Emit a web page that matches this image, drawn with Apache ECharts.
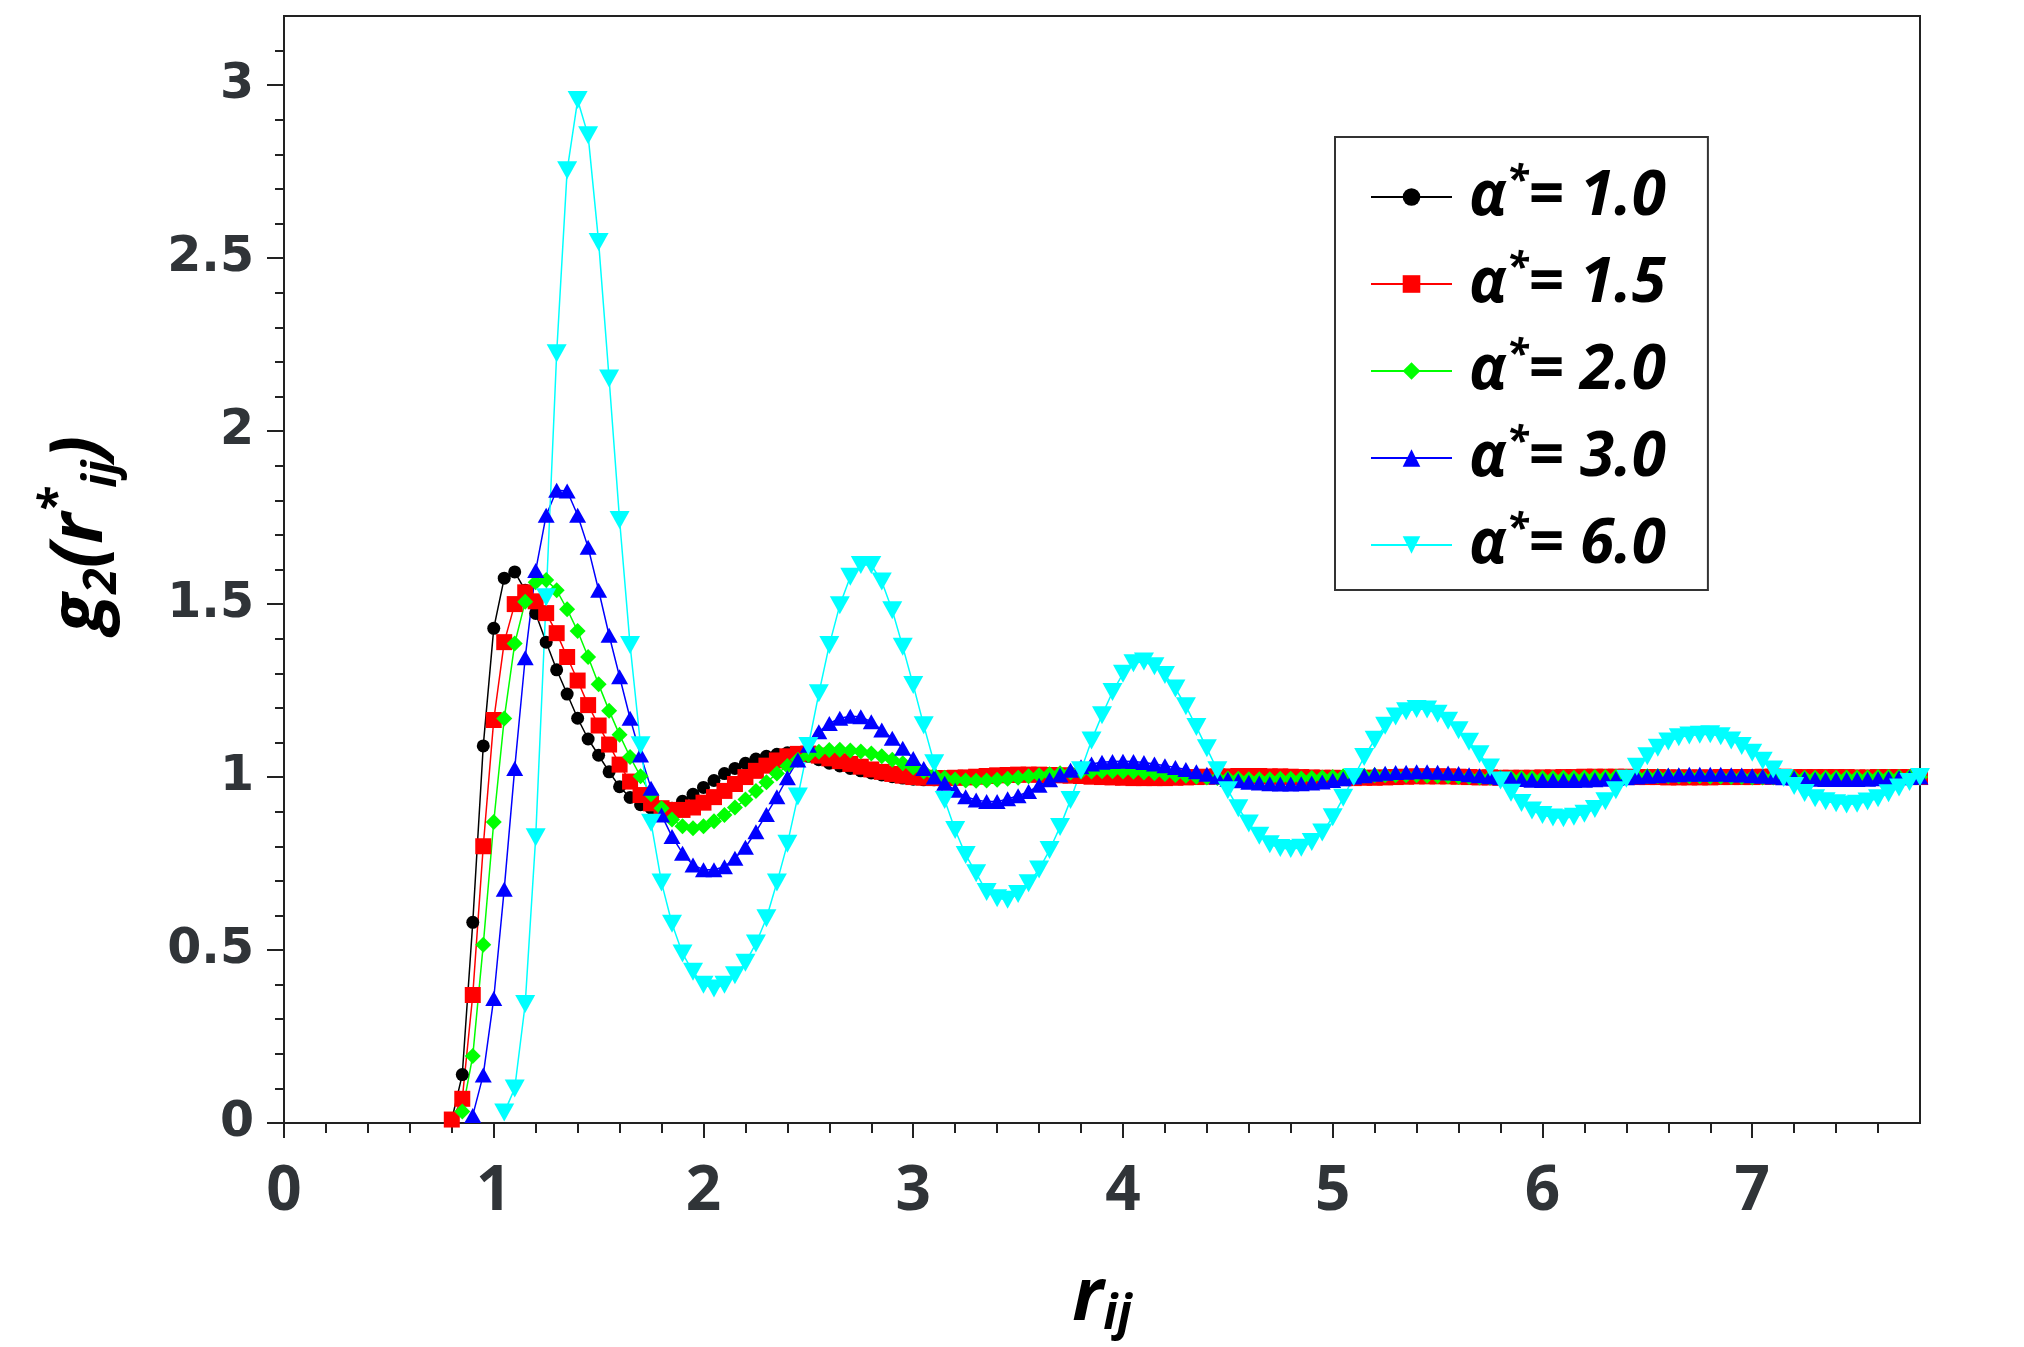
<!DOCTYPE html>
<html>
<head>
<meta charset="utf-8">
<script src="https://cdn.jsdelivr.net/npm/echarts@6/dist/echarts.min.js"></script>
<style>
  html, body { margin: 0; padding: 0; background: #fff; }
  #chart { width: 2024px; height: 1347px; }
</style>
</head>
<body>
<div id="chart"></div>
<script>
// r grid shared by all curves
const r = [
  0.75, 0.8, 0.85, 0.9, 0.95, 1, 1.05, 1.1, 1.15, 1.2,
  1.25, 1.3, 1.35, 1.4, 1.45, 1.5, 1.55, 1.6, 1.65, 1.7,
  1.75, 1.8, 1.85, 1.9, 1.95, 2, 2.05, 2.1, 2.15, 2.2,
  2.25, 2.3, 2.35, 2.4, 2.45, 2.5, 2.55, 2.6, 2.65, 2.7,
  2.75, 2.8, 2.85, 2.9, 2.95, 3, 3.05, 3.1, 3.15, 3.2,
  3.25, 3.3, 3.35, 3.4, 3.45, 3.5, 3.55, 3.6, 3.65, 3.7,
  3.75, 3.8, 3.85, 3.9, 3.95, 4, 4.05, 4.1, 4.15, 4.2,
  4.25, 4.3, 4.35, 4.4, 4.45, 4.5, 4.55, 4.6, 4.65, 4.7,
  4.75, 4.8, 4.85, 4.9, 4.95, 5, 5.05, 5.1, 5.15, 5.2,
  5.25, 5.3, 5.35, 5.4, 5.45, 5.5, 5.55, 5.6, 5.65, 5.7,
  5.75, 5.8, 5.85, 5.9, 5.95, 6, 6.05, 6.1, 6.15, 6.2,
  6.25, 6.3, 6.35, 6.4, 6.45, 6.5, 6.55, 6.6, 6.65, 6.7,
  6.75, 6.8, 6.85, 6.9, 6.95, 7, 7.05, 7.1, 7.15, 7.2,
  7.25, 7.3, 7.35, 7.4, 7.45, 7.5, 7.55, 7.6, 7.65, 7.7,
  7.75, 7.8
];

// g2 values, alpha* = 1.0
const gAlpha10 = [
  null, 0.01, 0.14, 0.58, 1.09, 1.43, 1.575, 1.593, 1.54, 1.473,
  1.39, 1.31, 1.24, 1.17, 1.11, 1.063, 1.015, 0.972, 0.941, 0.92,
  0.91, 0.905, 0.91, 0.93, 0.95, 0.97, 0.99, 1.01, 1.025, 1.04,
  1.052, 1.06, 1.066, 1.07, 1.068, 1.06, 1.05, 1.04, 1.032, 1.025,
  1.018, 1.012, 1.006, 1.001, 0.997, 0.994, 0.992, 0.992, 0.993, 0.994,
  0.996, 0.998, 1.0, 1.002, 1.004, 1.005, 1.006, 1.006, 1.005, 1.004,
  1.003, 1.002, 1.001, 1.0, 0.999, 0.999, 0.998, 0.998, 0.999, 0.999,
  1.0, 1.0, 1.0, 1.001, 1.001, 1.001, 1.001, 1.0, 1.0, 1.0,
  1.0, 1.0, 1.0, 1.0, 1.0, 1.0, 1.0, 1.0, 1.0, 1.0,
  1.0, 1.0, 1.0, 1.0, 1.0, 1.0, 1.0, 1.0, 1.0, 1.0,
  1.0, 1.0, 1.0, 1.0, 1.0, 1.0, 1.0, 1.0, 1.0, 1.0,
  1.0, 1.0, 1.0, 1.0, 1.0, 1.0, 1.0, 1.0, 1.0, 1.0,
  1.0, 1.0, 1.0, 1.0, 1.0, 1.0, 1.0, 1.0, 1.0, 1.0,
  1.0, 1.0, 1.0, 1.0, 1.0, 1.0, 1.0, 1.0, 1.0, 1.0,
  1.0, 1.0
];

// alpha* = 1.5
const gAlpha15 = [
  null, 0.01, 0.07, 0.37, 0.8, 1.165, 1.39, 1.5, 1.534, 1.508,
  1.474, 1.416, 1.347, 1.279, 1.208, 1.149, 1.094, 1.036, 0.987, 0.948,
  0.924, 0.91, 0.905, 0.905, 0.912, 0.926, 0.942, 0.96, 0.98, 1.0,
  1.018, 1.033, 1.048, 1.06, 1.067, 1.068, 1.062, 1.054, 1.046, 1.038,
  1.03, 1.022, 1.015, 1.009, 1.004, 1.0, 0.998, 0.997, 0.997, 0.998,
  0.999, 1.001, 1.003, 1.005, 1.006, 1.007, 1.007, 1.007, 1.006, 1.005,
  1.004, 1.003, 1.001, 1.0, 0.999, 0.998, 0.997, 0.997, 0.997, 0.997,
  0.998, 0.999, 1.0, 1.001, 1.002, 1.002, 1.003, 1.003, 1.003, 1.002,
  1.002, 1.001, 1.0, 0.999, 0.998, 0.998, 0.997, 0.997, 0.998, 0.998,
  0.999, 1.0, 1.001, 1.002, 1.002, 1.002, 1.002, 1.001, 1.0, 0.999,
  0.999, 0.998, 0.998, 0.998, 0.998, 0.999, 0.999, 1.0, 1.0, 1.001,
  1.001, 1.001, 1.001, 1.001, 1.0, 1.0, 1.0, 0.999, 0.999, 0.999,
  0.999, 0.999, 1.0, 1.0, 1.0, 1.0, 1.001, 1.001, 1.001, 1.0,
  1.0, 1.0, 1.0, 1.0, 1.0, 0.999, 0.999, 1.0, 1.0, 1.0,
  1.0, 1.0
];

// alpha* = 2.0
const gAlpha20 = [
  null, null, 0.033, 0.194, 0.515, 0.87, 1.169, 1.386, 1.507, 1.563,
  1.57, 1.54, 1.485, 1.422, 1.347, 1.268, 1.192, 1.122, 1.058, 1.002,
  0.95, 0.91, 0.877, 0.858, 0.852, 0.858, 0.872, 0.89, 0.912, 0.935,
  0.96, 0.985, 1.01, 1.032, 1.05, 1.064, 1.073, 1.078, 1.079, 1.077,
  1.074, 1.068, 1.06, 1.05, 1.04, 1.028, 1.016, 1.005, 0.998, 0.993,
  0.99, 0.989, 0.99, 0.992, 0.995, 0.998, 1.002, 1.005, 1.008, 1.011,
  1.013, 1.015, 1.016, 1.017, 1.017, 1.016, 1.015, 1.013, 1.011, 1.009,
  1.006, 1.004, 1.001, 0.999, 0.997, 0.996, 0.995, 0.994, 0.994, 0.994,
  0.995, 0.995, 0.996, 0.997, 0.999, 1.0, 1.002, 1.003, 1.004, 1.005,
  1.005, 1.005, 1.005, 1.005, 1.004, 1.003, 1.002, 1.001, 1.0, 0.999,
  0.998, 0.998, 0.997, 0.997, 0.997, 0.997, 0.997, 0.998, 0.998, 0.999,
  1.0, 1.0, 1.001, 1.001, 1.002, 1.002, 1.002, 1.002, 1.002, 1.002,
  1.002, 1.001, 1.001, 1.0, 1.0, 0.999, 0.999, 0.999, 0.998, 0.998,
  0.998, 0.998, 0.998, 0.998, 0.999, 0.999, 0.999, 1.0, 1.0, 1.0,
  1.0, 1.0
];

// alpha* = 3.0
const gAlpha30 = [
  null, null, null, 0.022, 0.139, 0.36, 0.676, 1.025, 1.345, 1.597,
  1.757, 1.829, 1.827, 1.757, 1.664, 1.54, 1.41, 1.29, 1.17, 1.064,
  0.968, 0.89, 0.828, 0.78, 0.746, 0.732, 0.732, 0.741, 0.765, 0.797,
  0.842, 0.892, 0.943, 0.998, 1.049, 1.092, 1.131, 1.155, 1.17, 1.176,
  1.174, 1.16, 1.136, 1.112, 1.083, 1.054, 1.025, 1.0, 0.982, 0.962,
  0.943, 0.934, 0.929, 0.929, 0.937, 0.946, 0.958, 0.976, 0.992, 1.006,
  1.02, 1.03, 1.038, 1.043, 1.045, 1.046, 1.045, 1.042, 1.038, 1.033,
  1.028, 1.022, 1.015, 1.008, 1.0, 0.994, 0.989, 0.985, 0.983, 0.981,
  0.98, 0.98, 0.981, 0.983, 0.986, 0.99, 0.995, 1.0, 1.004, 1.008,
  1.011, 1.013, 1.014, 1.015, 1.015, 1.014, 1.012, 1.01, 1.007, 1.004,
  1.001, 0.998, 0.995, 0.993, 0.991, 0.99, 0.99, 0.99, 0.99, 0.991,
  0.992, 0.994, 0.996, 0.998, 1.0, 1.002, 1.004, 1.006, 1.007, 1.008,
  1.008, 1.008, 1.008, 1.007, 1.006, 1.004, 1.002, 1.0, 0.998, 0.997,
  0.995, 0.994, 0.993, 0.993, 0.993, 0.993, 0.994, 0.995, 0.996, 0.998,
  0.999, 1.0
];

// alpha* = 6.0
const gAlpha60 = [
  null, null, null, null, null, null, 0.03, 0.1, 0.344, 0.826,
  1.52, 2.225, 2.754, 2.957, 2.855, 2.547, 2.152, 1.743, 1.382, 1.092,
  0.868, 0.695, 0.576, 0.49, 0.437, 0.4, 0.389, 0.4, 0.427, 0.463,
  0.519, 0.592, 0.695, 0.807, 0.944, 1.09, 1.242, 1.382, 1.497, 1.579,
  1.613, 1.613, 1.565, 1.482, 1.377, 1.266, 1.15, 1.04, 0.934, 0.847,
  0.775, 0.722, 0.668, 0.65, 0.645, 0.662, 0.693, 0.733, 0.789, 0.856,
  0.934, 1.02, 1.106, 1.179, 1.246, 1.299, 1.329, 1.334, 1.32, 1.295,
  1.256, 1.205, 1.145, 1.083, 1.02, 0.962, 0.91, 0.866, 0.83, 0.806,
  0.795, 0.792, 0.796, 0.812, 0.84, 0.884, 0.94, 1.0, 1.058, 1.108,
  1.148, 1.175, 1.19, 1.197, 1.195, 1.183, 1.163, 1.135, 1.102, 1.066,
  1.028, 0.99, 0.955, 0.925, 0.903, 0.89, 0.883, 0.881, 0.885, 0.894,
  0.908, 0.93, 0.962, 0.995, 1.03, 1.06, 1.085, 1.103, 1.115, 1.12,
  1.122, 1.124, 1.118, 1.106, 1.09, 1.07, 1.047, 1.022, 0.997, 0.974,
  0.954, 0.939, 0.93, 0.924, 0.921, 0.923, 0.929, 0.939, 0.953, 0.97,
  0.986, 1.0
];

const alphaLabels = ['1.0', '1.5', '2.0', '3.0', '6.0'];
const xMajor = [0, 1, 2, 3, 4, 5, 6, 7];
const xMinor = [
  0.2, 0.4, 0.6, 0.8, 1.2, 1.4, 1.6, 1.8, 2.2, 2.4, 2.6, 2.8,
  3.2, 3.4, 3.6, 3.8, 4.2, 4.4, 4.6, 4.8, 5.2, 5.4, 5.6, 5.8,
  6.2, 6.4, 6.6, 6.8, 7.2, 7.4, 7.6
];
const yMajor = [0, 0.5, 1, 1.5, 2, 2.5, 3];
const yMinor = [
  0.1, 0.2, 0.3, 0.4, 0.6, 0.7, 0.8, 0.9, 1.1, 1.2, 1.3, 1.4,
  1.6, 1.7, 1.8, 1.9, 2.1, 2.2, 2.3, 2.4, 2.6, 2.7, 2.8, 2.9, 3.1
];

const curves = [gAlpha10, gAlpha15, gAlpha20, gAlpha30, gAlpha60];
// marker look for each curve
const looks = [
  { color: '#000000', symbol: 'circle', size: 13 },
  { color: '#ff0000', symbol: 'rect', size: 16 },
  { color: '#00ff00', symbol: 'diamond', size: 16 },
  { color: '#0000ff', symbol: 'triangle', size: [17, 15] },
  { color: '#00ffff', symbol: 'path://M0,0L10,0L5,9Z', size: [20, 18] }
];

const labelColor = '#303438';
const serif = 'Open Sans';

const chart = echarts.init(document.getElementById('chart'));

const series = curves.map((vals, i) => ({
  name: 'α*= ' + alphaLabels[i],
  type: 'line',
  xAxisIndex: 0,
  yAxisIndex: 0,
  data: r.map((x, k) => [x, vals[k]]).filter(p => p[1] !== null),
  symbol: looks[i].symbol,
  symbolSize: looks[i].size,
  showSymbol: true,
  lineStyle: { color: looks[i].color, width: 1.5 },
  itemStyle: { color: looks[i].color },
  emphasis: { disabled: true }
}));

const nameFont = { fontFamily: serif, fontWeight: 'bold', fontStyle: 'italic', color: '#000' };

const option = {
  animation: false,
  backgroundColor: '#fff',
  grid: {
    left: 284, top: 16, right: 104, bottom: 224,
    show: true, borderColor: '#222', borderWidth: 2
  },
  legend: {
    orient: 'vertical',
    left: 1335, top: 137,
    padding: [25, 42, 14, 35],
    itemGap: 21,
    itemWidth: 81,
    itemHeight: 22,
    borderColor: '#333',
    borderWidth: 2,
    backgroundColor: '#fff',
    selectedMode: false,
    formatter: name => '{g|α}{s|*}{a|= ' + name.split('= ')[1] + '}',
    textStyle: {
      rich: {
        g: Object.assign({ fontSize: 62, lineHeight: 70, padding: [0, 0, 0, 12], verticalAlign: 'middle' }, nameFont),
        s: Object.assign({ fontSize: 40, lineHeight: 44, verticalAlign: 'top' }, nameFont),
        a: Object.assign({ fontSize: 62, lineHeight: 70, verticalAlign: 'middle' }, nameFont)
      }
    }
  },
  xAxis: [
    {
      type: 'value', min: 0, max: 7.8, position: 'bottom',
      name: '{m|r}{s|ij}',
      nameLocation: 'middle',
      nameGap: 136,
      nameTextStyle: {
        rich: {
          m: Object.assign({ fontSize: 74, lineHeight: 80, verticalAlign: 'middle' }, nameFont),
          s: Object.assign({ fontSize: 48, lineHeight: 50, verticalAlign: 'bottom' }, nameFont)
        }
      },
      axisLine: { show: true, lineStyle: { color: '#222', width: 2 } },
      axisTick: { show: true, inside: false, length: 15, lineStyle: { color: '#222', width: 2 }, customValues: xMajor },
      axisLabel: {
        customValues: xMajor, margin: 38,
        fontFamily: serif, fontWeight: 'bold', fontSize: 62, color: labelColor
      },
      splitLine: { show: false }
    },
    {
      type: 'value', min: 0, max: 7.8, position: 'bottom',
      axisLine: { show: false },
      axisTick: { show: true, inside: false, length: 10, lineStyle: { color: '#222', width: 2 }, customValues: xMinor },
      axisLabel: { show: false },
      splitLine: { show: false }
    }
  ],
  yAxis: [
    {
      type: 'value', min: 0, max: 3.2, position: 'left',
      name: '{m|g}{s|2}{m|(r}{p|*}{s|ij}{m|)}',
      nameLocation: 'middle',
      nameRotate: 90,
      nameGap: 158,
      nameTextStyle: {
        padding: [0, 0, 0, 70],
        rich: {
          m: Object.assign({ fontSize: 73, lineHeight: 90, verticalAlign: 'middle' }, nameFont),
          s: Object.assign({ fontSize: 46, lineHeight: 50, verticalAlign: 'bottom' }, nameFont),
          p: Object.assign({ fontSize: 46, lineHeight: 28, verticalAlign: 'top' }, nameFont)
        }
      },
      axisLine: { show: true, lineStyle: { color: '#222', width: 2 } },
      axisTick: { show: true, inside: false, length: 17, lineStyle: { color: '#222', width: 2 }, customValues: yMajor },
      axisLabel: {
        customValues: yMajor, margin: 30,
        fontFamily: 'DejaVu Sans', fontWeight: 'bold', fontSize: 49, color: labelColor
      },
      splitLine: { show: false }
    },
    {
      type: 'value', min: 0, max: 3.2, position: 'left',
      axisLine: { show: false },
      axisTick: { show: true, inside: false, length: 9, lineStyle: { color: '#222', width: 2 }, customValues: yMinor },
      axisLabel: { show: false },
      splitLine: { show: false }
    }
  ],
  series: series
};

chart.setOption(option);
</script>
</body>
</html>
